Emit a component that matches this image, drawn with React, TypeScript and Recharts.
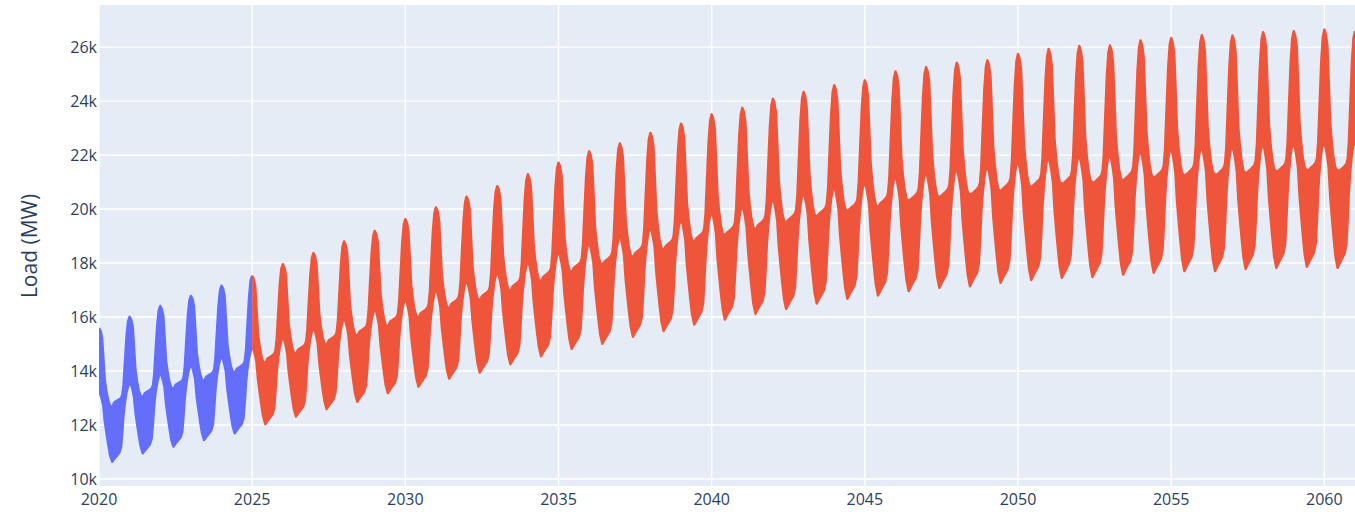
import React from "react";
import { ComposedChart, Area, XAxis, YAxis, CartesianGrid } from "recharts";

// top of the winter peak around 1 Jan of each year, 2020 .. 2061 (MW)
const peakLoad = [
    15590, 16010, 16410, 16780, 17160, 17530, 17960, 18370, 18800, 19190,
    19630, 20060, 20460, 20850, 21290, 21720, 22140, 22430, 22820, 23160,
    23510, 23750, 24090, 24340, 24590, 24770, 25100, 25260, 25420, 25510,
    25750, 25930, 26040, 26060, 26250, 26340, 26440, 26430, 26550, 26590,
    26650, 26600,
];

// bottom of the late-spring low of each year, 2020 .. 2060 (MW)
const troughLoad = [
    10640, 10950, 11200, 11440, 11690, 12030, 12310, 12590, 12860, 13180,
    13420, 13720, 13940, 14250, 14550, 14820, 15010, 15270, 15480, 15720,
    15910, 16120, 16300, 16500, 16680, 16800, 16960, 17080, 17140, 17270,
    17370, 17450, 17480, 17570, 17640, 17700, 17700, 17780, 17820, 17860,
    17820,
];

// shape of one year: position in the year, and the band's
// upper / lower edge as a share of the way from the low up to the peak
const seasonPos = [0, 0.05, 0.1, 0.14, 0.19, 0.24, 0.3, 0.36, 0.43, 0.5, 0.58, 0.66, 0.72, 0.76, 0.8, 0.84, 0.9, 0.95];
const seasonTop = [1, 0.98, 0.93, 0.79, 0.61, 0.53, 0.46, 0.42, 0.41, 0.41, 0.42, 0.43, 0.44, 0.46, 0.53, 0.67, 0.87, 0.97];
const seasonBottom = [0.52, 0.5, 0.46, 0.42, 0.3, 0.22, 0.13, 0.05, 0, 0.02, 0.04, 0.06, 0.1, 0.2, 0.32, 0.4, 0.48, 0.52];

const troughPos = 0.43;
const forecastStart = 2025;

const xTicks = [2020, 2025, 2030, 2035, 2040, 2045, 2050, 2055, 2060];
const yTicks = [10000, 12000, 14000, 16000, 18000, 20000, 22000, 24000, 26000];

const buildRows = () => {
    const rows: any[] = [];
    const push = (t: number, band: number[]) => {
        const row: any = { t };
        if (t <= forecastStart) row.history = band;
        if (t >= forecastStart) row.forecast = band;
        rows.push(row);
    };
    troughLoad.forEach((low, i) => {
        const year = 2020 + i;
        seasonPos.forEach((p, k) => {
            const peak = p <= troughPos ? peakLoad[i] : peakLoad[i + 1];
            const span = peak - low;
            push(year + p, [low + seasonBottom[k] * span, low + seasonTop[k] * span]);
        });
    });
    const last = troughLoad.length - 1;
    const endPeak = peakLoad[last + 1];
    push(2020 + last + 1, [troughLoad[last] + seasonBottom[0] * (endPeak - troughLoad[last]), endPeak]);
    return rows;
};

const data = buildRows();

const tickStyle = { fontSize: 16, fill: "#2a3f5f", fontFamily: "'Open Sans', Arial, sans-serif" };

const App = () => {
    return (
        <div style={{ position: "absolute", left: 0, top: 0, width: 1355, height: 514, background: "#fff" }}>
            <ComposedChart width={1355} height={514} data={data} margin={{ top: 5, right: 0, bottom: 0, left: 0 }}>
                <CartesianGrid fill="#E5ECF6" stroke="#ffffff" strokeWidth={1.4} horizontalValues={yTicks} verticalValues={xTicks} />
                <XAxis
                    dataKey="t"
                    type="number"
                    domain={[2020, 2061]}
                    ticks={xTicks}
                    allowDataOverflow
                    axisLine={false}
                    tickLine={false}
                    tickSize={0}
                    tickMargin={8}
                    height={28}
                    tick={tickStyle}
                />
                <YAxis
                    type="number"
                    domain={[9740, 27560]}
                    ticks={yTicks}
                    allowDataOverflow
                    axisLine={false}
                    tickLine={false}
                    tickSize={0}
                    tickMargin={2}
                    width={99}
                    tick={tickStyle}
                    tickFormatter={(v: number) => `${v / 1000}k`}
                />
                <Area
                    dataKey="history"
                    type="linear"
                    stroke="#636EFA"
                    strokeWidth={2.4}
                    strokeLinejoin="round"
                    fill="#636EFA"
                    fillOpacity={1}
                    isAnimationActive={false}
                    dot={false}
                    activeDot={false}
                />
                <Area
                    dataKey="forecast"
                    type="linear"
                    stroke="#EF553B"
                    strokeWidth={2.4}
                    strokeLinejoin="round"
                    fill="#EF553B"
                    fillOpacity={1}
                    isAnimationActive={false}
                    dot={false}
                    activeDot={false}
                />
            </ComposedChart>
            <div
                style={{
                    position: "absolute",
                    left: 29,
                    top: 246,
                    transform: "translate(-50%, -50%) rotate(-90deg)",
                    fontSize: 21,
                    color: "#2a3f5f",
                    fontFamily: "'Open Sans', Arial, sans-serif",
                    whiteSpace: "nowrap",
                }}
            >
                Load (MW)
            </div>
        </div>
    );
};

export default App;
